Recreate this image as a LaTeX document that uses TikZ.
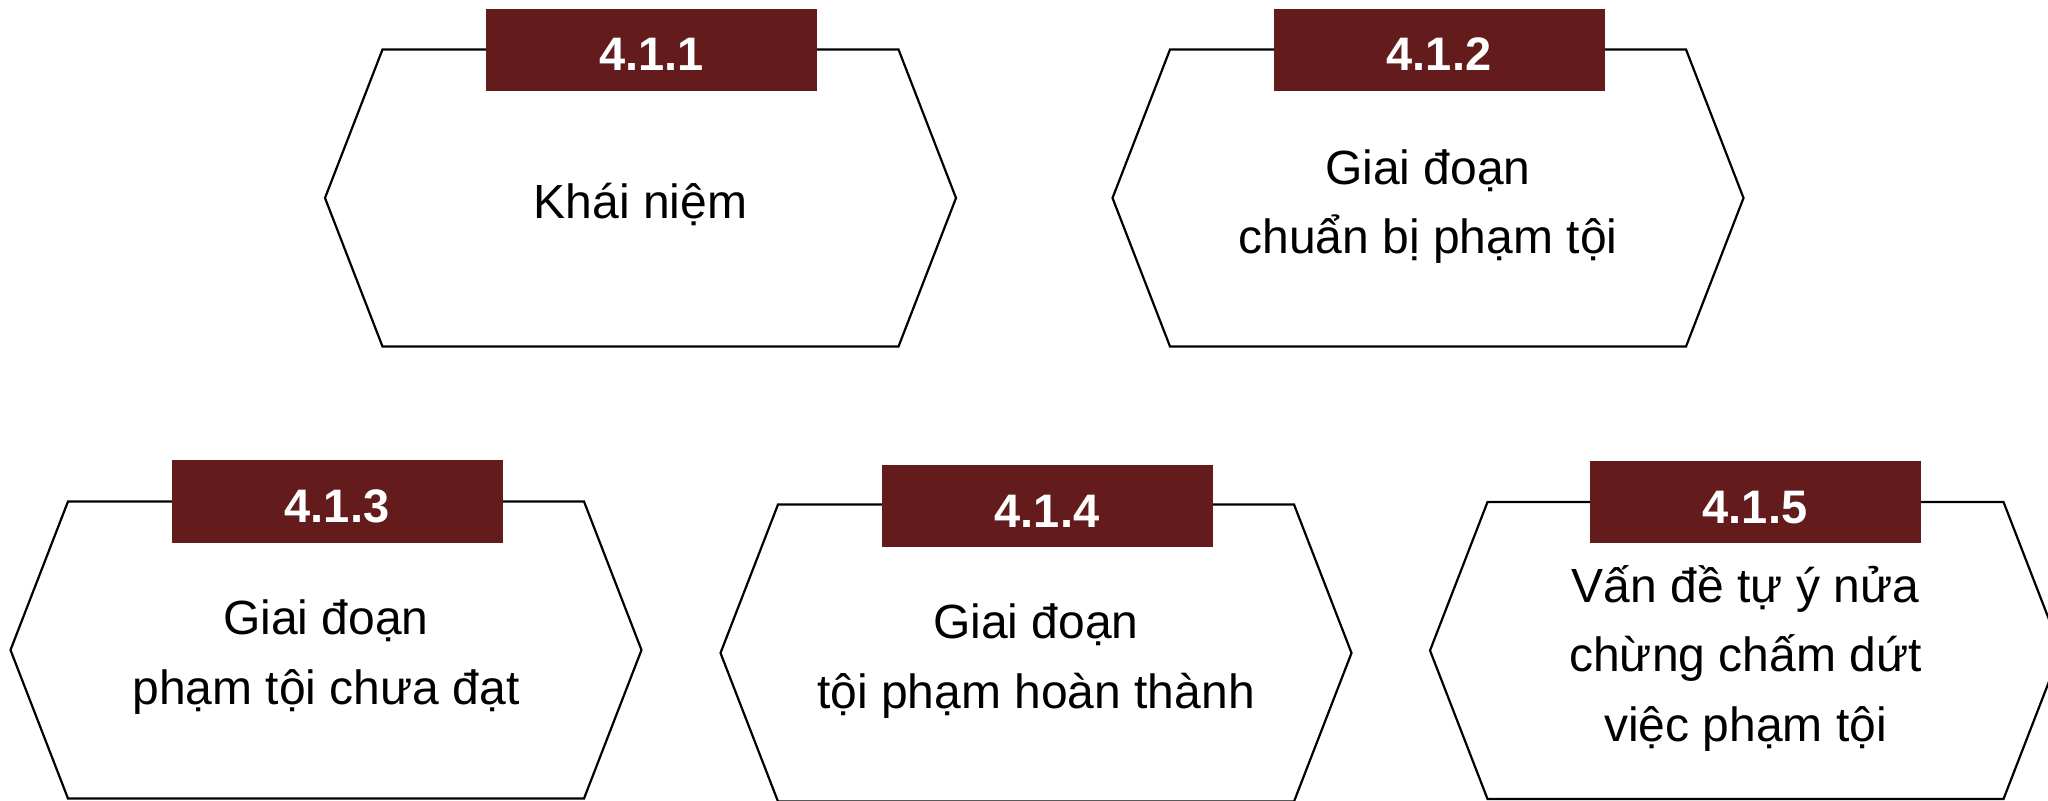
\documentclass[tikz,border=0pt]{standalone}
\usepackage{fontspec}
\setmainfont{Liberation Sans}
\definecolor{labelred}{HTML}{641B1C}
\begin{document}
\begin{tikzpicture}[x=0.5pt,y=-0.5pt,
  hexline/.style={draw=black,line width=1.1pt,line join=miter},
  hexcard/.pic={\path[hexline] (-315.5,0) -- (-258,-148.5) -- (258,-148.5) -- (315.5,0) -- (258,148.5) -- (-258,148.5) -- cycle;},
  tag/.style={fill=labelred, minimum width=165.5pt, minimum height=41.25pt, inner sep=0pt,
    text=white, font=\fontsize{23.5}{28}\selectfont\bfseries, text height=21pt, text depth=0pt},
  body/.style={anchor=base, align=center, inner sep=0pt, font=\fontsize{24}{34.6}\selectfont}]
\useasboundingbox (0,0) rectangle (2048,801);
\clip (0,0) rectangle (2048,801);
% hexagons
\pic (h1) at (640.5,198) {hexcard};
\pic (h2) at (1428,198) {hexcard};
\pic (h3) at (326,650) {hexcard};
\pic (h4) at (1036,653) {hexcard};
\pic (h5) at (1745.5,650.5) {hexcard};
% tags
\node[tag] (l1) at (651.5,50) {4.1.1};
\node[tag] (l2) at (1439,50) {4.1.2};
\node[tag] (l3) at (337,501.5) {4.1.3};
\node[tag] (l4) at (1047,506) {4.1.4};
\node[tag] (l5) at (1755,502) {4.1.5};
% texts (base anchor = baseline of the last line)
\node[body] (t1) at (640.5,219) {Khái niệm};
\node[body] (t2) at (1428,254) {Giai đoạn\\chuẩn bị phạm tội};
\node[body] (t3) at (326,704) {Giai đoạn\\phạm tội chưa đạt};
\node[body] (t4) at (1036,708) {Giai đoạn\\tội phạm hoàn thành};
\node[body] (t5) at (1745.5,741) {Vấn đề tự ý nửa\\chừng chấm dứt\\việc phạm tội};
\end{tikzpicture}
\end{document}
